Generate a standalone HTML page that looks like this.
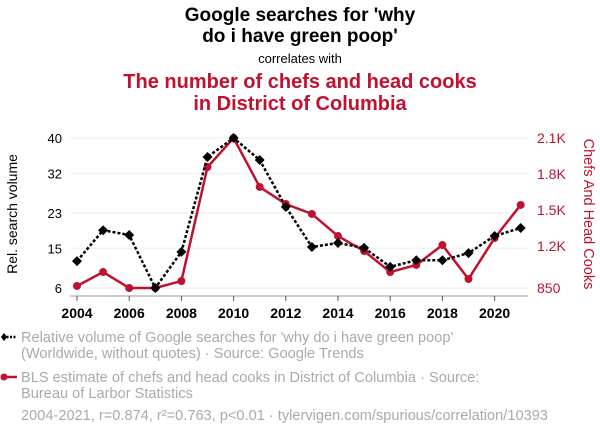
<!DOCTYPE html>
<html><head><meta charset="utf-8"><style>
html,body{margin:0;padding:0;background:#fff;width:600px;height:436px;overflow:hidden}
svg{display:block;font-family:"Liberation Sans",sans-serif}
</style></head><body>
<svg id="chart" width="600" height="436">
<text x="300" y="21" text-anchor="middle" font-size="19" font-weight="bold">Google searches for 'why</text>
<text x="300" y="42" text-anchor="middle" font-size="19" font-weight="bold">do i have green poop'</text>
<text x="300" y="63" text-anchor="middle" font-size="13">correlates with</text>
<text x="300" y="88" text-anchor="middle" font-size="20" font-weight="bold" fill="#c0122f">The number of chefs and head cooks</text>
<text x="300" y="110" text-anchor="middle" font-size="20" font-weight="bold" fill="#c0122f">in District of Columbia</text>
<g id="grid"></g><g id="axes"></g><g id="series"></g>
<text transform="translate(17,214) rotate(-90)" text-anchor="middle" font-size="14">Rel. search volume</text>
<text transform="translate(584,214) rotate(90)" text-anchor="middle" font-size="14.5" fill="#c0122f">Chefs And Head Cooks</text>
<g>
<line x1="3" y1="337" x2="17" y2="337" stroke="#000" stroke-width="2.5" stroke-dasharray="2,1.5"/>
<path d="M4 333 L7 337 L4 341 L1 337 Z" fill="#000"/>
<text x="21" y="342" font-size="14.6" fill="#aaa">Relative volume of Google searches for 'why do i have green poop'</text>
<text x="21" y="358" font-size="14.6" fill="#aaa">(Worldwide, without quotes) · Source: Google Trends</text>
</g>
<g>
<line x1="3" y1="377" x2="17" y2="377" stroke="#c0122f" stroke-width="2.5"/>
<circle cx="4" cy="377" r="3.5" fill="#c0122f"/>
<text x="21" y="382" font-size="14.6" fill="#aaa">BLS estimate of chefs and head cooks in District of Columbia · Source:</text>
<text x="21" y="398" font-size="14.6" fill="#aaa">Bureau of Larbor Statistics</text>
</g>
<text x="21" y="420" font-size="14.6" fill="#aaa">2004-2021, r=0.874, r²=0.763, p&lt;0.01 · tylervigen.com/spurious/correlation/10393</text>
</svg>
<script>
const years=[2004,2005,2006,2007,2008,2009,2010,2011,2012,2013,2014,2015,2016,2017,2018,2019,2020,2021];
const googleValues=[12.1,19.1,18.0,6,14.2,35.7,40,35,24.4,15.3,16.2,15.1,10.8,12.3,12.3,13.9,17.8,19.6];
const chefValues=[867,983,850,850,908,1858,2100,1692,1550,1467,1283,1158,983,1042,1208,925,1267,1542];
const leftTicks=[6,15,23,32,40];
const leftTickLabels=["6","15","23","32","40"];
const rightTicks=[850,1200,1500,1800,2100];
const rightTickLabels=["850","1.2K","1.5K","1.8K","2.1K"];
const xTicks=[2004,2006,2008,2010,2012,2014,2016,2018,2020];
const NS="http://www.w3.org/2000/svg";
const x=y=>77+(y-2004)*26.1;
const yL=v=>288-(v-6)/(40-6)*150;
const yR=v=>288-(v-850)/(2100-850)*150;
function mk(tag,attrs,parent){const e=document.createElementNS(NS,tag);for(const k in attrs)e.setAttribute(k,attrs[k]);parent.appendChild(e);return e;}
const grid=document.getElementById('grid'),axes=document.getElementById('axes'),ser=document.getElementById('series');
leftTicks.forEach((t,i)=>{
 const l=mk('line',{x1:70,x2:528,y1:yL(t),y2:yL(t),stroke:'#eee','stroke-width':1},grid);
 
 
 const tx=mk('text',{x:62,y:yL(t)+5,'text-anchor':'end','font-size':13},axes);tx.textContent=leftTickLabels[i];
 
 
});
rightTicks.forEach((t,i)=>{
 const tx=mk('text',{x:537,y:yR(t)+5,'font-size':14,fill:'#c0122f'},axes);tx.textContent=rightTickLabels[i];
 
 
});
const ax=mk('line',{x1:70,x2:528,y1:296,y2:296,stroke:'#999','stroke-width':1},axes);


xTicks.forEach(t=>{
 mk('line',{x1:x(t),x2:x(t),y1:296,y2:301,stroke:'#555','stroke-width':1},axes);
 const tx=mk('text',{x:x(t),y:318,'text-anchor':'middle','font-size':14,'font-weight':'bold'},axes);tx.textContent=t;
 
 
});
const rp=mk('polyline',{points:years.map((y,i)=>x(y)+','+yR(chefValues[i])).join(' '),fill:'none',stroke:'#c0122f','stroke-width':2.5},ser);


years.forEach((y,i)=>{
 const c=mk('circle',{cx:x(y),cy:yR(chefValues[i]),r:4,fill:'#c0122f'},ser);
 
 
});
const bp=mk('polyline',{points:years.map((y,i)=>x(y)+','+yL(googleValues[i])).join(' '),fill:'none',stroke:'#000','stroke-width':2.5,'stroke-dasharray':'3,2'},ser);


years.forEach((y,i)=>{
 const cx=x(y),cy=yL(googleValues[i]);
 const d=mk('path',{d:`M${cx} ${cy-5}L${cx+5} ${cy}L${cx} ${cy+5}L${cx-5} ${cy}Z`,fill:'#000'},ser);
 
 
});
</script>
</body></html>
